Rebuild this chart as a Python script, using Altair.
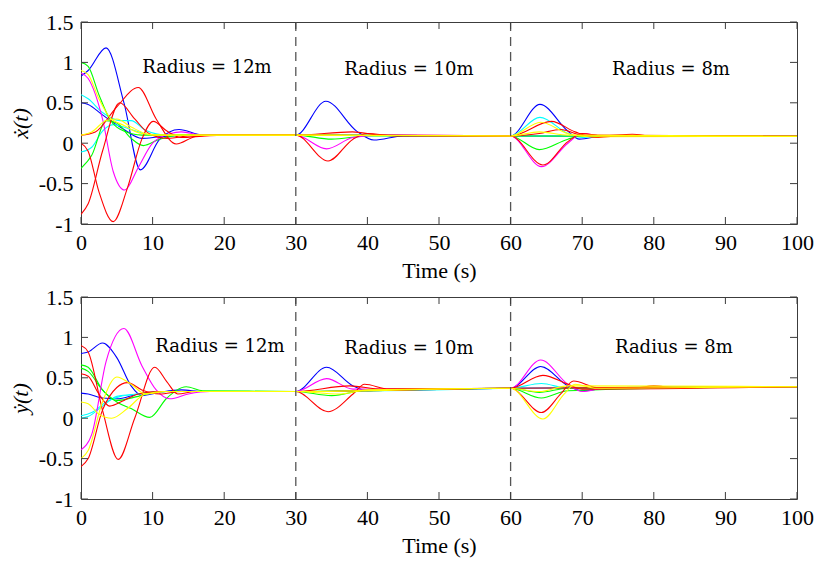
import altair as alt
import pandas as pd

# ---------------- data ----------------
X_TICKS = [0, 10, 20, 30, 40, 50, 60, 70, 80, 90, 100]
Y_TICKS = [-1, -0.5, 0, 0.5, 1, 1.5]
SWITCH_TIMES = [30, 60]

ANNOT_TEXT = ["Radius = 12m", "Radius = 10m", "Radius = 8m"]
TOP_ANNOT_T = [17.6, 45.8, 82.4]
TOP_ANNOT_V = [0.93, 0.91, 0.91]
BOT_ANNOT_T = [19.4, 45.8, 82.8]
BOT_ANNOT_V = [0.88, 0.86, 0.87]

SERIES_NAMES = ["blue1", "blue2", "cyan1", "cyan2", "green1", "green2", "magenta",
                "red1", "red2", "red3", "yellow1", "yellow2"]
SERIES_COLORS = ["#0000ff", "#0000ff", "#00ffff", "#00ffff", "#00ff00", "#00ff00", "#ff00ff",
                 "#ff0000", "#ff0000", "#ff0000", "#ffff00", "#ffff00"]

# top panel: x-dot(t)   (time, value) pairs
TOP_BLUE1 = [(0, 0.83), (1, 0.9), (3.5, 1.18), (6, 0.5), (8.3, -0.33), (11, 0.05), (13.7, 0.17),
             (17, 0.1), (30, 0.1), (34.2, 0.52), (38.5, 0.15), (40.9, 0.04), (45, 0.09), (60, 0.09),
             (64.1, 0.48), (68, 0.15), (69.6, 0.05), (73, 0.09), (100, 0.085)]
TOP_BLUE2 = [(0, 0.50), (1, 0.48), (3, 0.35), (6, 0.17), (8.5, 0.06), (11, 0.08), (15, 0.1),
             (30, 0.1), (60, 0.09), (100, 0.085)]
TOP_RED1 = [(0, 0.10), (2, 0.14), (5, 0.45), (8, 0.69), (10.5, 0.3), (13.3, -0.01), (16, 0.08),
            (20, 0.1), (30, 0.1), (34.5, -0.22), (38, 0.05), (40, 0.12), (44, 0.09), (60, 0.09),
            (64.5, -0.27), (68, 0.02), (70, 0.12), (73, 0.09), (77, 0.11), (80, 0.085), (100, 0.085)]
TOP_RED2 = [(0, 0.0), (1, -0.1), (2.5, -0.6), (4.5, -0.97), (6.5, -0.55), (8.5, 0.05), (10.1, 0.27),
            (12, 0.15), (14, 0.07), (18, 0.1), (30, 0.1), (37.9, 0.14), (42, 0.1), (60, 0.09),
            (65.7, 0.27), (69, 0.14), (72, 0.07), (75, 0.09), (100, 0.085)]
TOP_RED3 = [(0, -0.88), (1, -0.75), (3, -0.1), (5.4, 0.5), (7.5, 0.3), (9.5, 0.12), (12, 0.06),
            (16, 0.1), (30, 0.1), (60, 0.09), (64, 0.12), (67, 0.17), (70, 0.1), (100, 0.085)]
TOP_MAGENTA = [(0, 0.87), (1, 0.8), (3, 0.3), (4.5, -0.35), (6.1, -0.58), (8, -0.3), (10, 0.0),
               (12.5, 0.12), (14, 0.14), (17, 0.1), (30, 0.1), (34.3, -0.07), (38, 0.07), (42, 0.1),
               (60, 0.09), (64.3, -0.29), (68, 0.0), (70, 0.12), (73, 0.09), (100, 0.085)]
TOP_GREEN1 = [(0, 1.0), (1, 0.95), (2.5, 0.6), (4, 0.3), (6, 0.15), (8.5, 0.1), (30, 0.1),
              (60, 0.09), (100, 0.085)]
TOP_GREEN2 = [(0, -0.31), (1.5, -0.15), (3.5, 0.28), (5, 0.25), (7, 0.06), (8.7, -0.03), (11, 0.05),
              (14, 0.1), (30, 0.1), (35, 0.05), (40, 0.09), (60, 0.09), (64, -0.08), (68, 0.05),
              (70, 0.09), (100, 0.085)]
TOP_YELLOW1 = [(0, 0.90), (1, 0.85), (2.5, 0.55), (4, 0.32), (6, 0.22), (8.5, 0.12), (12, 0.1),
               (30, 0.1), (60, 0.09), (64.2, 0.26), (68, 0.12), (71, 0.08), (100, 0.085)]
TOP_YELLOW2 = [(0, 0.10), (1.5, 0.14), (3.5, 0.28), (5, 0.3), (7, 0.2), (10, 0.1), (30, 0.1),
               (60, 0.09), (64, 0.14), (68, 0.1), (100, 0.085)]
TOP_CYAN1 = [(0, 0.60), (1, 0.55), (3, 0.38), (5.5, 0.28), (7, 0.28), (9, 0.16), (12, 0.1),
             (30, 0.1), (60, 0.09), (64.1, 0.32), (68, 0.12), (70, 0.07), (73, 0.09), (100, 0.085)]
TOP_CYAN2 = [(0, -0.11), (1.5, -0.05), (3, 0.15), (4.5, 0.23), (7, 0.17), (10, 0.1), (30, 0.1),
             (60, 0.09), (100, 0.085)]

# bottom panel: y-dot(t)
BOT_BLUE1 = [(0, 0.80), (1, 0.82), (3, 0.93), (5, 0.75), (7, 0.4), (8.5, 0.28), (11, 0.32),
             (14, 0.35), (17, 0.33), (30, 0.33), (34.3, 0.63), (38, 0.4), (40, 0.34), (44, 0.36),
             (60, 0.37), (64.2, 0.64), (68, 0.4), (70, 0.34), (74, 0.38), (100, 0.39)]
BOT_BLUE2 = [(0, 0.31), (1, 0.3), (3, 0.25), (5, 0.24), (8, 0.3), (12, 0.33), (30, 0.33),
             (60, 0.37), (100, 0.39)]
BOT_RED1 = [(0, 0.90), (1, 0.82), (3, 0.1), (5.2, -0.51), (7.5, 0.0), (10.3, 0.63), (12, 0.45),
            (13.5, 0.3), (16, 0.33), (30, 0.33), (34.5, 0.08), (38, 0.3), (39.6, 0.42), (43, 0.36),
            (60, 0.37), (64.3, 0.07), (67, 0.3), (68.8, 0.46), (72, 0.38), (77, 0.37), (80, 0.40),
            (83, 0.38), (100, 0.39)]
BOT_RED2 = [(0, 0.55), (1, 0.52), (2.5, 0.3), (4, 0.15), (6, 0.22), (8, 0.3), (11, 0.33),
            (30, 0.33), (37.5, 0.4), (42, 0.36), (60, 0.37), (64.5, 0.53), (68, 0.42), (70, 0.36),
            (100, 0.39)]
BOT_RED3 = [(0, -0.60), (1, -0.5), (3, 0.1), (5, 0.38), (6.5, 0.44), (8.5, 0.35), (11, 0.3),
            (14, 0.33), (30, 0.33), (60, 0.37), (100, 0.39)]
BOT_MAGENTA = [(0, -0.39), (1.5, -0.2), (3.5, 0.7), (6, 1.11), (8.5, 0.65), (10.5, 0.35),
               (12.4, 0.24), (15, 0.3), (18, 0.33), (30, 0.33), (34.3, 0.49), (38, 0.36), (60, 0.37),
               (64.2, 0.72), (68, 0.42), (70, 0.33), (73, 0.37), (100, 0.39)]
BOT_GREEN1 = [(0, 0.66), (1, 0.63), (3, 0.35), (5, 0.2), (7, 0.12), (9.6, 0.01), (12, 0.25),
              (14.7, 0.39), (17, 0.34), (30, 0.33), (35, 0.28), (40, 0.35), (60, 0.37),
              (64.3, 0.25), (68, 0.34), (100, 0.39)]
BOT_GREEN2 = [(0, 0.62), (1, 0.58), (3, 0.35), (5, 0.22), (8, 0.27), (11, 0.33), (30, 0.33),
              (60, 0.37), (64, 0.32), (68, 0.37), (100, 0.39)]
BOT_YELLOW1 = [(0, -0.50), (1, -0.4), (3, 0.2), (5, 0.51), (7, 0.42), (9, 0.3), (12, 0.33),
               (30, 0.33), (36, 0.3), (40, 0.35), (60, 0.37), (64.5, -0.01), (67.5, 0.3),
               (69, 0.42), (72, 0.37), (100, 0.39)]
BOT_YELLOW2 = [(0, 0.20), (1, 0.18), (2.5, 0.05), (4.3, 0.0), (6.5, 0.12), (9, 0.3), (12, 0.33),
               (30, 0.33), (60, 0.37), (64, 0.33), (68, 0.4), (100, 0.39)]
BOT_CYAN1 = [(0, 0.0), (1, 0.02), (3, 0.15), (5, 0.27), (8, 0.3), (12, 0.33), (30, 0.33),
             (60, 0.37), (64.3, 0.43), (68, 0.37), (100, 0.39)]
BOT_CYAN2 = [(0, 0.03), (1.5, 0.07), (3.5, 0.2), (5.5, 0.27), (8, 0.3), (12, 0.33), (30, 0.33),
             (60, 0.37), (100, 0.39)]

TOP_SERIES = [TOP_BLUE1, TOP_BLUE2, TOP_CYAN1, TOP_CYAN2, TOP_GREEN1, TOP_GREEN2, TOP_MAGENTA,
              TOP_RED1, TOP_RED2, TOP_RED3, TOP_YELLOW1, TOP_YELLOW2]
BOT_SERIES = [BOT_BLUE1, BOT_BLUE2, BOT_CYAN1, BOT_CYAN2, BOT_GREEN1, BOT_GREEN2, BOT_MAGENTA,
              BOT_RED1, BOT_RED2, BOT_RED3, BOT_YELLOW1, BOT_YELLOW2]

# ---------------- chart ----------------
W, H = 716, 202
FONT = "Liberation Serif"
ANN_FONT = "DejaVu Serif"
FS = 22
ANN_FS = 18
FRAME = "#3c3c3c"
TICK_LEN = 7


def panel(series, ann_t, ann_v, ytitle):
    rows = []
    for name, pts in zip(SERIES_NAMES, series):
        for i, (t, v) in enumerate(pts):
            rows.append({"s": name, "t": t, "v": v, "o": i})
    df = pd.DataFrame(rows)

    xscale = alt.Scale(domain=[0, 100], nice=False)
    yscale = alt.Scale(domain=[-1, 1.5], nice=False)

    base_x = alt.X("t:Q", scale=xscale,
                   axis=alt.Axis(values=X_TICKS, title="Time (s)", grid=False, ticks=False,
                                 tickSize=0, domain=False, labelPadding=8, titlePadding=7,
                                 labelFlush=False, labelOverlap=False,
                                 labelFont=FONT, labelFontSize=FS, labelColor="black",
                                 titleFont=FONT, titleFontSize=FS, titleColor="black",
                                 titleFontWeight="normal"))
    base_y = alt.Y("v:Q", scale=yscale,
                   axis=alt.Axis(values=Y_TICKS, title=ytitle, grid=False, ticks=False,
                                 tickSize=0, domain=False, labelPadding=8, titlePadding=6,
                                 labelFlush=False, labelOverlap=False,
                                 labelExpr="datum.value + ''",
                                 labelFont=FONT, labelFontSize=FS, labelColor="black",
                                 titleFont=FONT, titleFontSize=FS, titleColor="black",
                                 titleFontWeight="normal", titleFontStyle="italic"))

    lines = alt.Chart(df).mark_line(interpolate="monotone", strokeWidth=1.1, clip=True).encode(
        x=base_x, y=base_y,
        color=alt.Color("s:N", scale=alt.Scale(domain=SERIES_NAMES, range=SERIES_COLORS),
                        legend=None, sort=SERIES_NAMES),
        order="o:Q",
    )

    sw = pd.DataFrame({"t": SWITCH_TIMES})
    dashed = alt.Chart(sw).mark_rule(strokeDash=[9, 6], color="#555555", strokeWidth=1.3).encode(
        x=alt.X("t:Q", scale=xscale))

    xt = pd.DataFrame({"t": X_TICKS})
    yt = pd.DataFrame({"v": Y_TICKS})
    tick_bottom = alt.Chart(xt).mark_rule(color=FRAME, strokeWidth=1).encode(
        x=alt.X("t:Q", scale=xscale), y=alt.value(H), y2=alt.value(H - TICK_LEN))
    tick_top = alt.Chart(xt).mark_rule(color=FRAME, strokeWidth=1).encode(
        x=alt.X("t:Q", scale=xscale), y=alt.value(0), y2=alt.value(TICK_LEN))
    tick_left = alt.Chart(yt).mark_rule(color=FRAME, strokeWidth=1).encode(
        y=alt.Y("v:Q", scale=yscale), x=alt.value(0), x2=alt.value(TICK_LEN))
    tick_right = alt.Chart(yt).mark_rule(color=FRAME, strokeWidth=1).encode(
        y=alt.Y("v:Q", scale=yscale), x=alt.value(W), x2=alt.value(W - TICK_LEN))

    ann = pd.DataFrame({"t": ann_t, "v": ann_v, "label": ANNOT_TEXT})
    texts = alt.Chart(ann).mark_text(font=ANN_FONT, fontSize=ANN_FS, color="black").encode(
        x=alt.X("t:Q", scale=xscale), y=alt.Y("v:Q", scale=yscale), text="label:N")

    return alt.layer(lines, dashed, tick_bottom, tick_top, tick_left, tick_right, texts).properties(
        width=W, height=H)


top = panel(TOP_SERIES, TOP_ANNOT_T, TOP_ANNOT_V, "ẋ(t)")
bottom = panel(BOT_SERIES, BOT_ANNOT_T, BOT_ANNOT_V, "ẏ(t)")

chart = alt.vconcat(top, bottom, spacing=3).properties(
    padding={"left": 0, "top": 2, "right": 0, "bottom": 2},
    background="white",
).configure_view(
    stroke=FRAME, strokeWidth=1
)

chart.save("out.html", embed_options={"renderer": "svg", "actions": False})
